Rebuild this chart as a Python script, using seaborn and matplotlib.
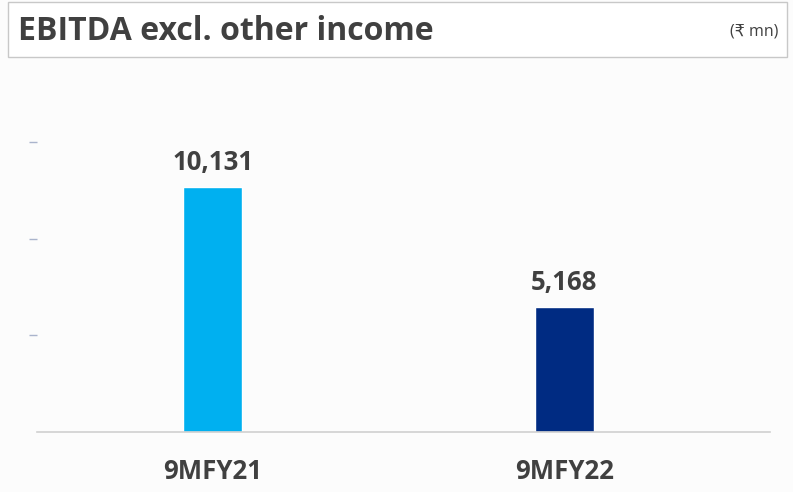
import matplotlib
matplotlib.use("Agg")
import matplotlib.pyplot as plt
import seaborn as sns
import pandas as pd
from matplotlib.patches import Rectangle

# Data (₹ mn)
periods = ["9MFY21", "9MFY22"]
ebitda = [10131, 5168]
bar_colors = ["#00B0F0", "#002B82"]
y_ticks = [4000, 8000, 12000]

TITLE = "EBITDA excl. other income"
UNIT = "(₹ mn)"
TEXT_COLOR = "#404040"


def main() -> None:
    sns.set_style("white")
    plt.rcParams["font.family"] = ["Open Sans", "DejaVu Sans"]

    df = pd.DataFrame({"period": periods, "value": ebitda})

    fig = plt.figure(figsize=(7.93, 4.92), dpi=100)
    fig.patch.set_facecolor("#fcfcfc")
    ax = fig.add_axes([37 / 793, 60 / 492, 733 / 793, 338.6 / 492])
    ax.set_facecolor("none")

    sns.barplot(
        data=df, x="period", y="value", hue="period",
        palette=bar_colors, width=0.168, legend=False, ax=ax,
        saturation=1,
    )
    ax.set_xlim(-0.5, 1.585)
    ax.set_ylim(0, 14000)

    # value labels above bars
    for i, v in enumerate(ebitda):
        ax.annotate(f"{v:,}", (i, v), xytext=(0, 8), textcoords="offset points",
                    ha="center", va="bottom", fontsize=18.5, fontweight="bold",
                    color=TEXT_COLOR)

    ax.set_xlabel("")
    ax.set_ylabel("")
    ax.set_yticks(y_ticks)
    ax.set_yticklabels([])
    ax.tick_params(axis="y", left=True, length=6, width=1, color="#aab4cc", pad=0)
    ax.tick_params(axis="x", length=0, pad=19)
    for lbl in ax.get_xticklabels():
        lbl.set_fontsize(18.5)
        lbl.set_fontweight("bold")
        lbl.set_color(TEXT_COLOR)

    for side in ["top", "right", "left"]:
        ax.spines[side].set_visible(False)
    ax.spines["bottom"].set_color("#d0d0d0")
    ax.spines["bottom"].set_linewidth(1.2)

    # title box
    fig.patches.append(Rectangle((8 / 793, 1 - 57 / 492), 779 / 793, 55 / 492,
                                 transform=fig.transFigure, facecolor="white",
                                 edgecolor="#c8c8c8", linewidth=1))
    fig.text(18 / 793, 1 - 31 / 492, TITLE, fontsize=23, fontweight="bold",
             color=TEXT_COLOR, va="center", ha="left")
    fig.text(778 / 793, 1 - 32 / 492, UNIT, fontsize=11.5,
             color=TEXT_COLOR, va="center", ha="right")

    fig.savefig("out.png", dpi=100, facecolor=fig.get_facecolor())
    plt.close(fig)


if __name__ == "__main__":
    main()
